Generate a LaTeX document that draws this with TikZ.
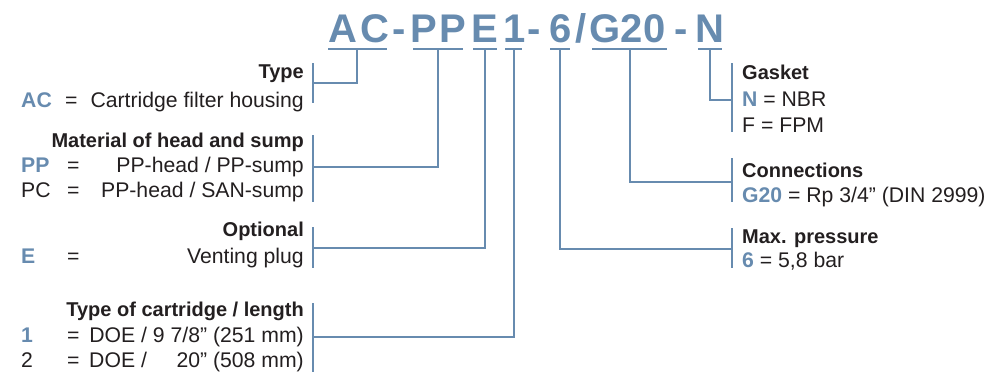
\documentclass[tikz,border=0pt]{standalone}
\usepackage{fontspec}
\setmainfont{Liberation Sans}
\definecolor{bl}{RGB}{103,139,175}
\definecolor{tx}{RGB}{35,31,32}
\newcommand\kk[1]{\textcolor{bl}{\bfseries #1}}
\begin{document}
\begin{tikzpicture}[x=1pt,y=-1pt,
 ttl/.style={font=\fontsize{40}{40}\selectfont\bfseries, text=bl, anchor=base, inner sep=0},
 lbl/.style={font=\fontsize{21.2}{24}\selectfont, text=tx, inner sep=0},
 hd/.style={font=\fontsize{20}{24}\selectfont\bfseries, text=tx, inner sep=0},
 ln/.style={draw=bl, line width=2pt}]
\useasboundingbox (0,0) rectangle (988,372);
% title characters
\node[ttl] (c1) at (342.5,42) {A};
\node[ttl] (c2) at (375,42) {C};
\node[ttl] (c3) at (399.5,42) {-};
\node[ttl] (c4) at (424,42) {P};
\node[ttl] (c5) at (452.5,42) {P};
\node[ttl] (c6) at (485,42) {E};
\node[ttl] (c7) at (514.5,42) {1};
\node[ttl] (c8) at (534.5,42) {-};
\node[ttl] (c9) at (561,42) {6};
\node[ttl] (c10) at (581,42) {/};
\node[ttl] (c11) at (605,42) {G};
\node[ttl] (c12) at (632,42) {2};
\node[ttl] (c13) at (655,42) {0};
\node[ttl] (c14) at (681.5,42) {-};
\node[ttl] (c15) at (710,42) {N};
% underlines and tick points
\draw[ln] (328,49.3) -- (387,49.3);
\draw[ln] (413,49.3) -- (463,49.3);
\draw[ln] (473,49.3) -- (497,49.3);
\draw[ln] (505,49.3) -- (522,49.3);
\draw[ln] (550,49.3) -- (570,49.3);
\draw[ln] (592,49.3) -- (667,49.3);
\draw[ln] (698,49.3) -- (722,49.3);
\coordinate (tAC) at (357,49.3);
\coordinate (tPP) at (438,49.3);
\coordinate (tE) at (485,49.3);
\coordinate (t1) at (513.5,49.3);
\coordinate (t6) at (560,49.3);
\coordinate (tG) at (630,49.3);
\coordinate (tN) at (709.5,49.3);
% brackets left
\draw[ln] (313,63) -- (313,103);
\draw[ln] (313,135) -- (313,202);
\draw[ln] (313,227) -- (313,268);
\draw[ln] (313,303) -- (313,372);
\coordinate (bType) at (313,83);
\coordinate (bMat) at (313,167);
\coordinate (bOpt) at (313,248);
\coordinate (bCart) at (313,337);
% brackets right
\draw[ln] (732,63) -- (732,132);
\draw[ln] (732,158) -- (732,202);
\draw[ln] (732,228) -- (732,268);
\coordinate (bGas) at (732,100);
\coordinate (bCon) at (732,182);
\coordinate (bMax) at (732,249);
% connectors
\draw[ln] (tAC) |- (bType);
\draw[ln] (tPP) |- (bMat);
\draw[ln] (tE) |- (bOpt);
\draw[ln] (t1) |- (bCart);
\draw[ln] (t6) |- (bMax);
\draw[ln] (tG) |- (bCon);
\draw[ln] (tN) |- (bGas);
% left texts
\node[hd, anchor=base east] (hType) at (304,78) {Type};
\node[lbl, anchor=base west] (kAC) at (21,107) {\kk{AC}};
\node[lbl, anchor=base west] (eAC) at (65,107) {=};
\node[lbl, anchor=base east] (dAC) at (304,107) {Cartridge filter housing};
\node[hd, anchor=base east] (hMat) at (304,147) {Material of head and sump};
\node[lbl, anchor=base west] (kPP) at (21,172) {\kk{PP}};
\node[lbl, anchor=base west] (ePP) at (67,172) {=};
\node[lbl, anchor=base east] (dPP) at (304,172) {PP-head / PP-sump};
\node[lbl, anchor=base west] (kPC) at (21,197) {PC};
\node[lbl, anchor=base west] (ePC) at (67,197) {=};
\node[lbl, anchor=base east] (dPC) at (304,197) {PP-head / SAN-sump};
\node[hd, anchor=base east] (hOpt) at (304,236) {Optional};
\node[lbl, anchor=base west] (kE) at (21,263) {\kk{E}};
\node[lbl, anchor=base west] (eE) at (67,263) {=};
\node[lbl, anchor=base east] (dE) at (304,263) {Venting plug};
\node[hd, anchor=base east] (hCart) at (304,316) {Type of cartridge / length};
\node[lbl, anchor=base west] (k1) at (21,342) {\kk{1}};
\node[lbl, anchor=base west] (e1) at (67,342) {=};
\node[lbl, anchor=base east] (d1) at (304,342) {DOE / 9 7/8” (251 mm)};
\node[lbl, anchor=base west] (k2) at (21,367) {2};
\node[lbl, anchor=base west] (e2) at (67,367) {=};
\node[lbl, anchor=base west] (d2a) at (89,367) {DOE /};
\node[lbl, anchor=base east] (d2b) at (304,367) {20” (508 mm)};
% right texts
\node[hd, anchor=base west] (hGas) at (742,79) {Gasket};
\node[lbl, anchor=base west] (dN) at (742,106) {\kk{N} = NBR};
\node[lbl, anchor=base west] (dF) at (742,132) {F = FPM};
\node[hd, anchor=base west] (hCon) at (742,177) {Connections};
\node[lbl, anchor=base west] (dG) at (742,202) {\kk{G20} = Rp 3/4” (DIN 2999)};
\node[hd, anchor=base west] (hMax) at (742,243) {Max. pressure};
\node[lbl, anchor=base west] (d6) at (742,267) {\kk{6} = 5,8 bar};
\end{tikzpicture}
\end{document}
